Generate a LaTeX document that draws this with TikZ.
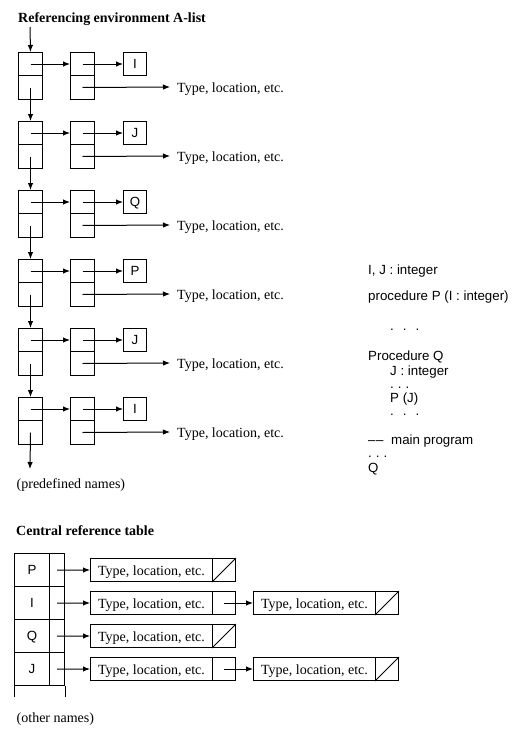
\documentclass[tikz,border=0pt]{standalone}
\usepackage{fontspec}
\setmainfont{Liberation Serif}
\newfontfamily\sansf{Liberation Sans}
\usetikzlibrary{arrows.meta}
\newcommand\serifsz{\fontsize{14bp}{16bp}\selectfont}
\newcommand\codesz{\sansf\fontsize{13.3bp}{15bp}\selectfont}
\newcommand\spdots{.\hspace{9bp}.\hspace{9bp}.}
\newcommand\tgdots{.\hspace{4bp}.\hspace{4bp}.}
\begin{document}
\begin{tikzpicture}[x=1bp,y=-1bp,
  lw/.style={line width=1bp},
  cell/.style={draw, lw, inner sep=0pt, anchor=north west, minimum width=24bp},
  sbox/.style={draw, lw, inner sep=0pt, anchor=north west, minimum width=23bp, minimum height=23bp,
    font=\codesz, text height=9.3bp, text depth=0pt},
  arr/.style={lw, -{Latex[length=7bp,width=5.5bp]}},
  tloc/.style={anchor=west, inner xsep=7bp, inner ysep=0pt, font=\serifsz, text height=10.5bp, text depth=0pt},
  code/.style={anchor=base west, inner sep=0pt, font=\codesz},
  title/.style={anchor=base west, inner sep=0pt, font=\bfseries\serifsz},
  label/.style={anchor=base west, inner sep=0pt, font=\serifsz},
  tcell/.style={draw, lw, inner sep=0pt, anchor=north west, minimum height=33bp,
    font=\codesz, text height=9.3bp, text depth=0pt},
  rec/.style={draw, lw, inner sep=0pt, anchor=north west, minimum width=122bp, minimum height=23bp,
    font=\serifsz, text height=11bp, text depth=0pt},
  ptr/.style={draw, lw, inner sep=0pt, anchor=north west, minimum width=23bp, minimum height=23bp}
]
\fill[white] (0,0) rectangle (527,742);
\useasboundingbox (0,0) rectangle (527,742);

% ---------- Referencing environment A-list ----------
\node[title] (title1) at (18,22.5) {Referencing environment A-list};
\coordinate (start) at (30,27);
\coordinate (finish) at (30,469);

\foreach \i/\nm in {0/I,1/J,2/Q,3/P,4/J,5/I} {
  \pgfmathsetmacro\t{52+69*\i}
  \node[cell, minimum height=23bp] (La\i) at (18,\t) {};
  \node[cell, minimum height=24bp] (Lb\i) at (18,\t+23) {};
  \node[cell, minimum height=23bp] (Ma\i) at (70,\t) {};
  \node[cell, minimum height=24bp] (Mb\i) at (70,\t+23) {};
  \node[sbox] (S\i) at (123,\t) {\nm};
  \node[tloc] (T\i) at (170,\t+35) {Type, location, etc.};
  \draw[arr] (La\i.center) -- (Ma\i.west);
  \draw[arr] (Ma\i.center) -- (S\i.west);
  \draw[arr] (Mb\i.center) -- (T\i.west);
}
\draw[arr] (start) -- (La0.north);
\foreach \i/\j in {0/1,1/2,2/3,3/4,4/5} {
  \draw[arr] (Lb\i.center) -- (La\j.north);
}
\draw[arr] (Lb5.center) -- (finish);
\node[label] (predef) at (16.5,488.5) {(predefined names)};

% ---------- program text ----------
\node[code] (c1) at (368,274.5) {I, J : integer};
\node[code] (c2) at (368,300) {procedure P (I : integer)};
\node[code] (c3) at (390,330) {\spdots};
\node[code] (c4) at (368,360) {Procedure Q};
\node[code] (c5) at (390,375) {J : integer};
\node[code] (c6) at (390,388) {\tgdots};
\node[code] (c7) at (390,402.5) {P (J)};
\node[code] (c8) at (390,415) {\spdots};
\node[code] (c9) at (368,444) {\makebox[23bp][l]{–\hspace{0.5bp}–}main program};
\node[code] (c10) at (368,457) {\tgdots};
\node[code] (c11) at (368,472) {Q};

% ---------- Central reference table ----------
\node[title] (title2) at (16,535) {Central reference table};
\foreach \k/\nm in {0/P,1/I,2/Q,3/J} {
  \pgfmathsetmacro\y{553+33*\k}
  \node[tcell, minimum width=35bp] (tn\k) at (14,\y) {\nm};
  \node[tcell, minimum width=15bp] (tp\k) at (49,\y) {};
  \node[rec] (ra\k) at (90,\y+5) {Type, location, etc.};
  \node[ptr] (rb\k) at (212,\y+5) {};
  \draw[arr] (tp\k.center) -- (ra\k.west);
}
\draw[lw] (tn3.south west) -- ++(0,11);
\draw[lw] (tp3.south east) -- ++(0,11);
% terminators
\draw[lw] (rb0.south west) -- (rb0.north east);
\draw[lw] (rb2.south west) -- (rb2.north east);
% second records
\foreach \k in {1,3} {
  \pgfmathsetmacro\y{553+33*\k}
  \node[rec] (sa\k) at (253,\y+5) {Type, location, etc.};
  \node[ptr] (sb\k) at (375,\y+5) {};
  \draw[arr] (rb\k.center) -- (sa\k.west);
  \draw[lw] (sb\k.south west) -- (sb\k.north east);
}
\node[label] (other) at (16.5,722.7) {(other names)};
\end{tikzpicture}
\end{document}
